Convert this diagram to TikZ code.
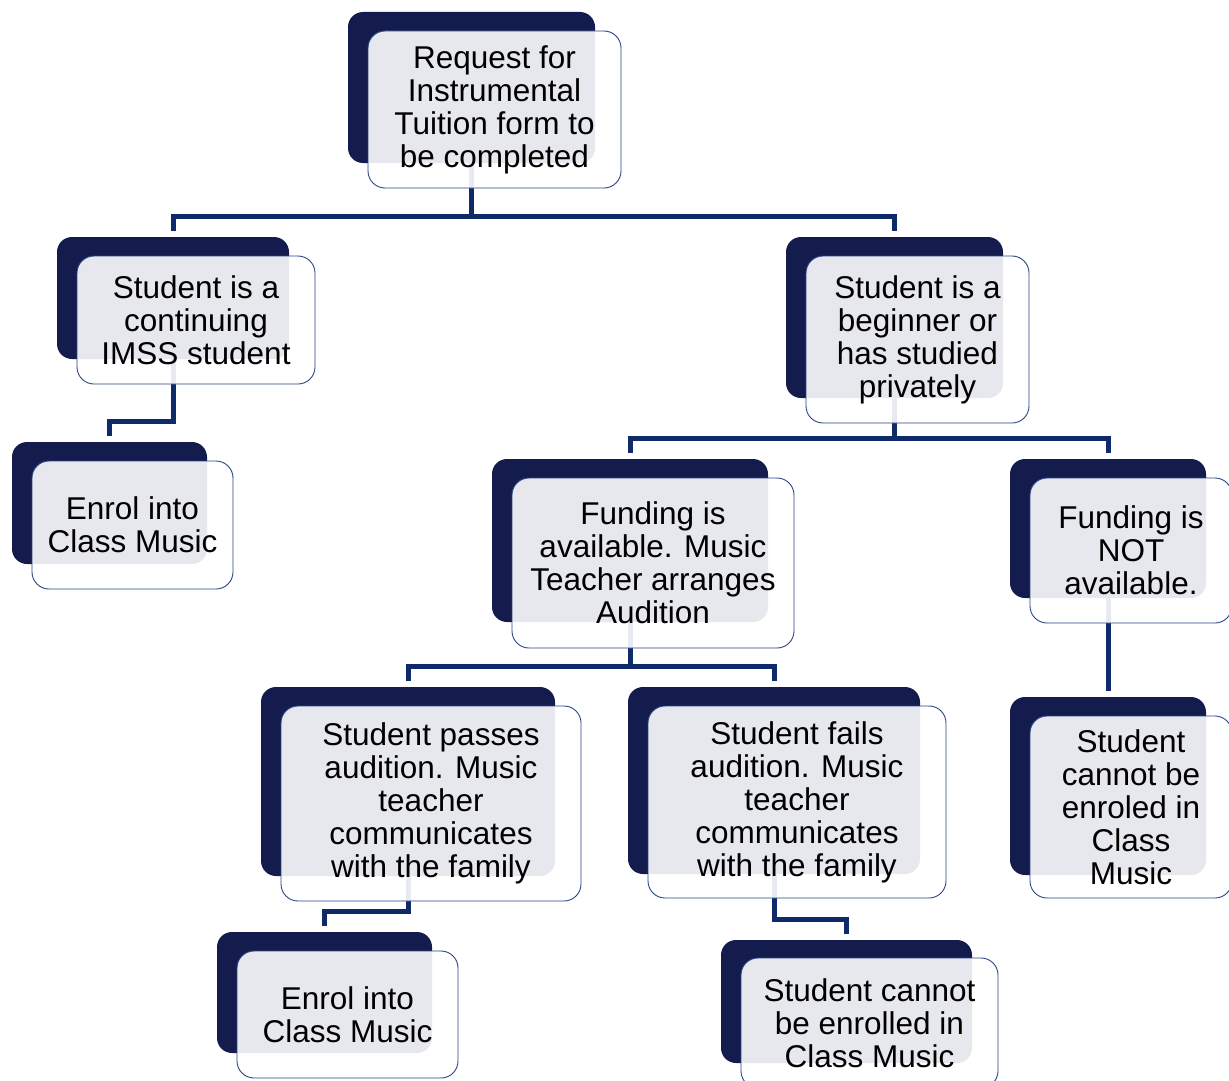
\documentclass[tikz,border=0pt]{standalone}
\usepackage{fontspec}
\setmainfont{Liberation Sans}
\definecolor{navydark}{HTML}{141B4D}
\definecolor{connblue}{HTML}{0E2A68}
\definecolor{frontline}{HTML}{2A4585}
\tikzset{
  backbox/.style={fill=navydark, draw=none, rounded corners=15pt, inner sep=0pt, outer sep=0pt},
  frontbox/.style={fill=white, fill opacity=0.9, text opacity=1, draw=frontline, line width=0.9pt,
    rounded corners=17pt, inner sep=0pt, outer sep=0pt, align=center, text=black,
    font=\fontsize{31.5}{33}\selectfont},
  conn/.style={draw=connblue, line width=5pt}
}
\begin{document}
\begin{tikzpicture}[x=1pt,y=-1pt]
\useasboundingbox (0,0) rectangle (1229,1081);
\clip (0,0) rectangle (1229,1081);
% back (dark) boxes
\node[backbox, minimum width=247pt, minimum height=151pt] (d1) at (471.5,87.5) {};
\node[backbox, minimum width=232pt, minimum height=122pt] (d2) at (173,298) {};
\node[backbox, minimum width=195pt, minimum height=122pt] (d3) at (109.5,503) {};
\node[backbox, minimum width=217pt, minimum height=161pt] (d4) at (894.5,317.5) {};
\node[backbox, minimum width=276pt, minimum height=163pt] (d5) at (630,540.5) {};
\node[backbox, minimum width=196pt, minimum height=139pt] (d6) at (1108,528.5) {};
\node[backbox, minimum width=294pt, minimum height=189pt] (d7) at (408,781.5) {};
\node[backbox, minimum width=292pt, minimum height=187pt] (d8) at (774,780.5) {};
\node[backbox, minimum width=215pt, minimum height=121pt] (d9) at (324.5,992.5) {};
\node[backbox, minimum width=251pt, minimum height=123pt] (d10) at (846.5,1001.5) {};
\node[backbox, minimum width=196pt, minimum height=178pt] (d11) at (1108,786) {};
% connectors
\draw[conn] (d1.south) |- ([yshift=21pt]d2.north) -- ([yshift=6pt]d2.north);
\draw[conn] (d1.south) |- ([yshift=21pt]d4.north) -- ([yshift=6pt]d4.north);
\draw[conn] (d2.south) |- ([yshift=21pt]d3.north) -- ([yshift=6pt]d3.north);
\draw[conn] (d4.south) |- ([yshift=21pt]d5.north) -- ([yshift=6pt]d5.north);
\draw[conn] (d4.south) |- ([yshift=21pt]d6.north) -- ([yshift=6pt]d6.north);
\draw[conn] (d5.south) |- ([yshift=21pt]d7.north) -- ([yshift=6pt]d7.north);
\draw[conn] (d5.south) |- ([yshift=21pt]d8.north) -- ([yshift=6pt]d8.north);
\draw[conn] (d6.south) -- ([yshift=6pt]d11.north);
\draw[conn] (d7.south) |- ([yshift=21pt]d9.north) -- ([yshift=6pt]d9.north);
\draw[conn] (d8.south) |- ([yshift=21pt]d10.north) -- ([yshift=6pt]d10.north);
% front boxes with text
\node[frontbox, minimum width=253pt, minimum height=157pt] (f1) at (494.5,109.5) {Request for\\Instrumental\\Tuition form to\\be completed};
\node[frontbox, minimum width=238pt, minimum height=128pt] (f2) at (196,320) {Student is a\\continuing\\IMSS student};
\node[frontbox, minimum width=201pt, minimum height=128pt] (f3) at (132.5,525) {Enrol into\\Class Music};
\node[frontbox, minimum width=223pt, minimum height=167pt] (f4) at (917.5,339.5) {Student is a\\beginner or\\has studied\\privately};
\node[frontbox, minimum width=282pt, minimum height=170pt] (f5) at (653,563) {Funding is\\available. Music\\Teacher arranges\\Audition};
\node[frontbox, minimum width=202pt, minimum height=145pt] (f6) at (1131,550.5) {Funding is\\NOT\\available.};
\node[frontbox, minimum width=300pt, minimum height=195pt] (f7) at (431,803.5) {Student passes\\audition. Music\\teacher\\communicates\\with the family};
\node[frontbox, minimum width=298pt, minimum height=192pt] (f8) at (797,802) {Student fails\\audition. Music\\teacher\\communicates\\with the family};
\node[frontbox, minimum width=221pt, minimum height=127pt] (f9) at (347.5,1014.5) {Enrol into\\Class Music};
\node[frontbox, minimum width=257pt, minimum height=130pt] (f10) at (869.5,1023) {Student cannot\\be enrolled in\\Class Music};
\node[frontbox, minimum width=202pt, minimum height=182pt] (f11) at (1131,807) {Student\\cannot be\\enroled in\\Class\\Music};
\end{tikzpicture}
\end{document}
